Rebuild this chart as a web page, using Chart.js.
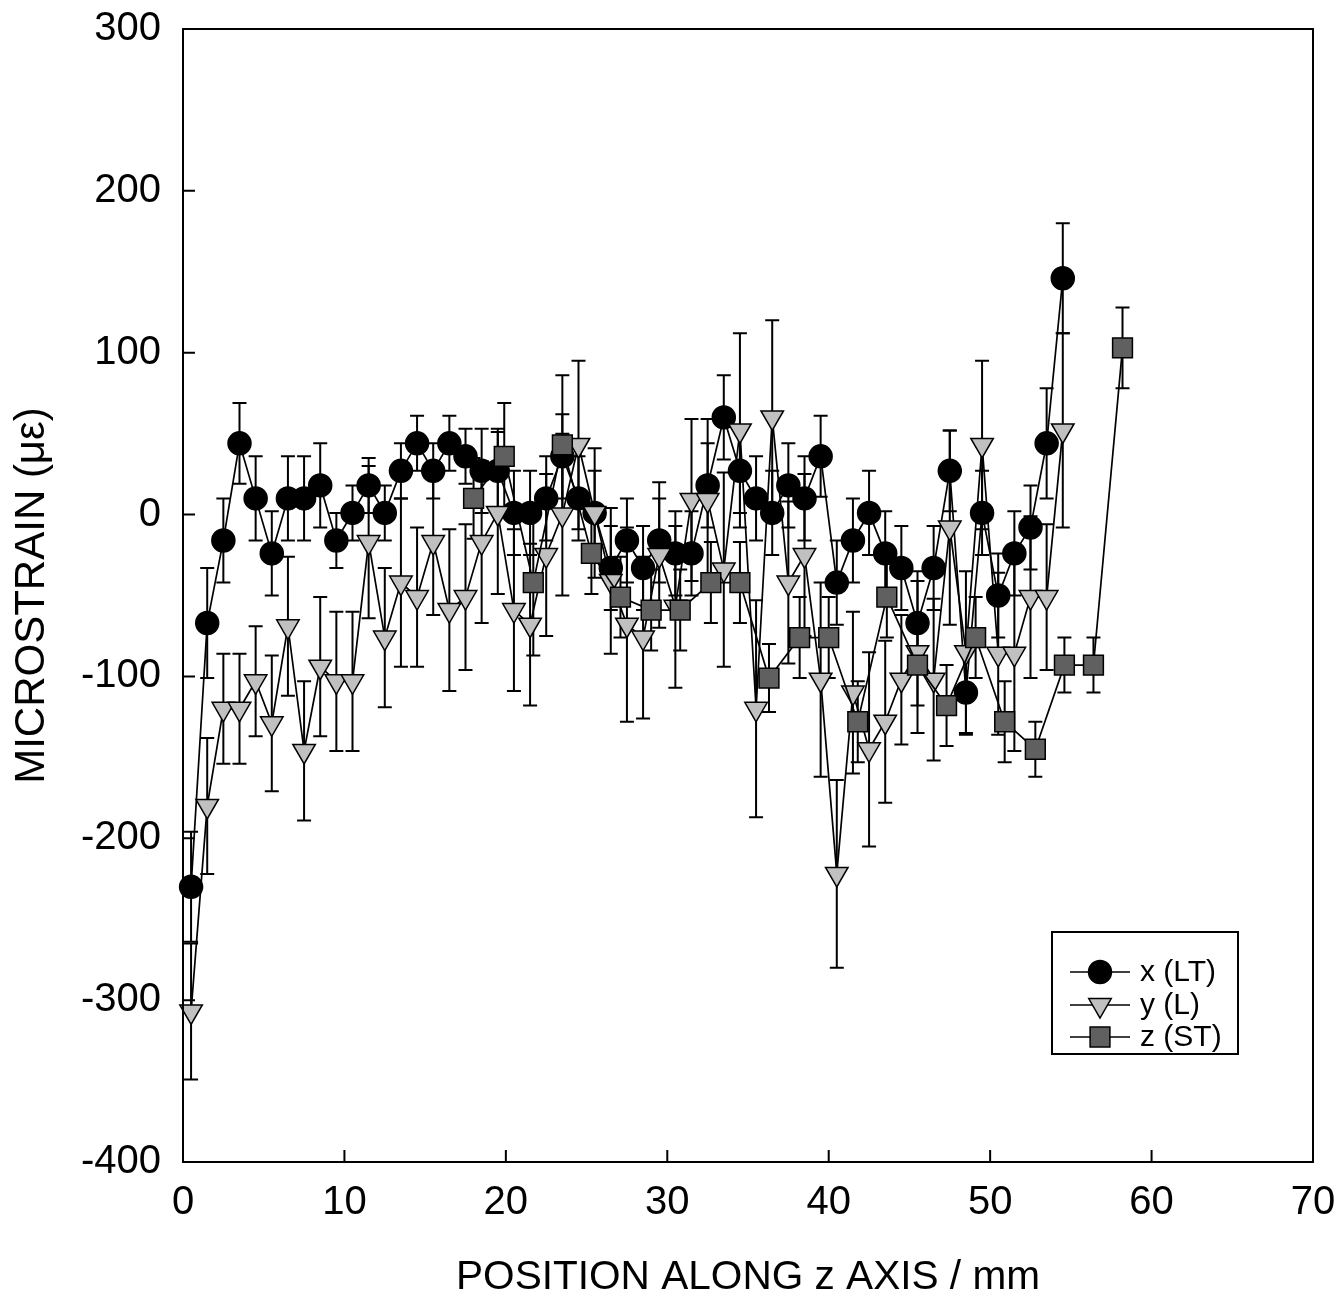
<!DOCTYPE html>
<html>
<head>
<meta charset="utf-8">
<script src="https://cdn.jsdelivr.net/npm/chart.js@4.4.0/dist/chart.umd.min.js"></script>
<style>
  html, body { margin: 0; padding: 0; background: #fff; }
  #wrap { width: 1342px; height: 1299px; }
</style>
</head>
<body>
<div id="wrap"><canvas id="myChart" width="1342" height="1299"></canvas></div>
<script>
// positions (mm) of x and y strain readings
const posXY = [0.5, 1.5, 2.5, 3.5, 4.5, 5.5, 6.5, 7.5, 8.5, 9.5, 10.5, 11.5, 12.5, 13.5, 14.5, 15.5, 16.5, 17.5, 18.5, 19.5,
  20.5, 21.5, 22.5, 23.5, 24.5, 25.5, 26.5, 27.5, 28.5, 29.5, 30.5, 31.5, 32.5, 33.5, 34.5, 35.5, 36.5, 37.5, 38.5, 39.5,
  40.5, 41.5, 42.5, 43.5, 44.5, 45.5, 46.5, 47.5, 48.5, 49.5, 50.5, 51.5, 52.5, 53.5, 54.5];

// x (LT)
const strainX = [-230, -67, -16, 44, 10, -24, 10, 10, 18, -16, 1, 18, 1, 27, 44, 27, 44, 36, 27, 27,
  1, 1, 10, 36, 10, 1, -33, -16, -33, -16, -24, -24, 18, 60, 27, 10, 1, 18, 10, 36,
  -42, -16, 1, -24, -33, -67, -33, 27, -110, 1, -50, -24, -8, 44, 146];
const errX = [34, 34, 26, 25, 26, 26, 26, 26, 26, 17, 17, 17, 17, 17, 17, 17, 17, 17, 26, 26,
  26, 26, 26, 26, 26, 26, 26, 26, 26, 26, 26, 26, 26, 26, 26, 26, 26, 26, 26, 25,
  26, 26, 26, 26, 26, 26, 26, 25, 26, 26, 26, 26, 26, 34, 34];

// y (L)
const strainY = [-307, -180, -120, -120, -103, -129, -69, -146, -94, -103, -103, -17, -76, -42, -51, -17, -59, -51, -17, 1,
  -59, -68, -25, 0, 43, 1, -41, -68, -76, -25, -57, 9, 9, -34, 52, -120, 60, -42, -25, -102,
  -222, -110, -145, -128, -102, -85, -102, -8, -85, 43, -86, -86, -51, -51, 52];
const errY = [42, 42, 34, 34, 34, 42, 43, 43, 43, 43, 43, 47, 43, 52, 43, 45, 50, 45, 50, 50,
  50, 50, 50, 50, 52, 40, 45, 60, 50, 45, 50, 50, 50, 60, 60, 67, 60, 50, 50, 60,
  58, 50, 60, 50, 40, 50, 50, 60, 50, 52, 50, 60, 50, 45, 60];

// z (ST) - measured on its own grid
const posZ = [18.0, 19.9, 21.7, 23.5, 25.3, 27.1, 29.0, 30.8, 32.7, 34.5, 36.3, 38.2, 40.0, 41.8, 43.6, 45.5,
  47.3, 49.1, 50.9, 52.8, 54.6, 56.4, 58.2];
const strainZ = [10, 36, -42, 43, -24, -51, -59, -59, -42, -42, -101, -76, -76, -128, -51, -93,
  -118, -76, -128, -145, -93, -93, 103];
const errZ = [25, 33, 45, 43, 25, 25, 25, 25, 25, 25, 21, 25, 25, 25, 25, 25,
  25, 25, 25, 17, 17, 17, 25];

const xTicks = [0, 10, 20, 30, 40, 50, 60, 70];
const yTicks = [-400, -300, -200, -100, 0, 100, 200, 300];

const FONT = "'Liberation Sans', Arial, sans-serif";

function pairs(xs, ys) {
    let out = [];
    for (let i = 0; i < xs.length; i++) {
        out.push({ x: xs[i], y: ys[i] });
    }
    return out;
}

const errors = [errX, errY, errZ];

const series = [
    { label: 'x (LT)', data: pairs(posXY, strainX), style: 'circle', radius: 11.5, rot: 0, fill: '#000000', order: 3 },
    { label: 'y (L)', data: pairs(posXY, strainY), style: 'triangle', radius: 13, rot: 180, fill: '#c0c0c0', order: 2 },
    { label: 'z (ST)', data: pairs(posZ, strainZ), style: 'rect', radius: 14, rot: 0, fill: '#606060', order: 1 }
];

// error bars under the markers
const errorBars = {
    id: 'errorBars',
    beforeDatasetsDraw(chart) {
        const ctx = chart.ctx;
        const yScale = chart.scales.y;
        ctx.save();
        ctx.strokeStyle = '#000';
        ctx.lineWidth = 2;
        chart.data.datasets.forEach((ds, i) => {
            const meta = chart.getDatasetMeta(i);
            const err = errors[i];
            meta.data.forEach((pt, j) => {
                const v = ds.data[j].y;
                const top = yScale.getPixelForValue(v + err[j]);
                const bot = yScale.getPixelForValue(v - err[j]);
                ctx.beginPath();
                ctx.moveTo(pt.x, top); ctx.lineTo(pt.x, bot);
                ctx.moveTo(pt.x - 7, top); ctx.lineTo(pt.x + 7, top);
                ctx.moveTo(pt.x - 7, bot); ctx.lineTo(pt.x + 7, bot);
                ctx.stroke();
            });
        });
        ctx.restore();
    }
};

// frame, inward ticks and the boxed legend
const frame = {
    id: 'frame',
    afterDraw(chart) {
        const ctx = chart.ctx;
        const a = chart.chartArea;
        const xs = chart.scales.x, ys = chart.scales.y;
        ctx.save();
        ctx.strokeStyle = '#000';
        ctx.lineWidth = 2;
        ctx.strokeRect(a.left, a.top, a.right - a.left, a.bottom - a.top);
        ctx.beginPath();
        xTicks.forEach(t => {
            const px = xs.getPixelForValue(t);
            ctx.moveTo(px, a.bottom); ctx.lineTo(px, a.bottom - 12);
        });
        yTicks.forEach(t => {
            const py = ys.getPixelForValue(t);
            ctx.moveTo(a.left, py); ctx.lineTo(a.left + 12, py);
        });
        ctx.stroke();

        // legend box
        const bx = 1052, by = 932, bw = 186, bh = 122;
        ctx.strokeRect(bx, by, bw, bh);
        const rows = [972, 1005, 1037];
        series.forEach((s, i) => {
            const y = rows[i];
            ctx.lineWidth = 1.5;
            ctx.strokeStyle = '#000';
            ctx.beginPath();
            ctx.moveTo(1070, y); ctx.lineTo(1130, y);
            ctx.stroke();
            ctx.fillStyle = s.fill;
            Chart.helpers.drawPoint(ctx, { pointStyle: s.style, radius: s.radius, rotation: s.rot, borderWidth: 1.5 }, 1100, y);
            ctx.fillStyle = '#000';
            ctx.font = '30px ' + FONT;
            ctx.textBaseline = 'middle';
            ctx.textAlign = 'left';
            ctx.fillText(s.label, 1140, y + 1);
        });
        ctx.restore();
    }
};

const ctx = document.getElementById('myChart').getContext('2d');

const myChart = new Chart(ctx, {
    type: 'scatter',
    data: {
        datasets: series.map(s => ({
            label: s.label,
            data: s.data,
            showLine: true,
            tension: 0,
            borderColor: '#000',
            borderWidth: 1.7,
            pointStyle: s.style,
            pointRadius: s.radius,
            pointHoverRadius: s.radius,
            pointRotation: s.rot,
            pointBackgroundColor: s.fill,
            pointBorderColor: '#000',
            pointBorderWidth: 1.5,
            order: s.order,
            clip: false
        }))
    },
    options: {
        responsive: false,
        animation: false,
        events: [],
        layout: { padding: { top: 29, right: 29, left: 0, bottom: 0 } },
        plugins: {
            legend: { display: false },
            tooltip: { enabled: false }
        },
        scales: {
            x: {
                type: 'linear',
                min: 0,
                max: 70,
                afterFit: (scale) => { scale.height = 137; scale.paddingLeft = 0; scale.paddingRight = 0; },
                afterBuildTicks: (scale) => { scale.ticks = xTicks.map(v => ({ value: v })); },
                grid: { display: false, drawTicks: false },
                border: { display: false },
                ticks: { color: '#000', padding: 17, maxRotation: 0, font: { family: FONT, size: 40 } },
                title: {
                    display: true,
                    text: 'POSITION ALONG z AXIS / mm',
                    color: '#000',
                    font: { family: FONT, size: 40.6, lineHeight: 1.0 },
                    padding: { top: 0, bottom: 1 }
                }
            },
            y: {
                type: 'linear',
                min: -400,
                max: 300,
                afterFit: (scale) => { scale.width = 183; scale.paddingTop = 0; scale.paddingBottom = 0; },
                afterBuildTicks: (scale) => { scale.ticks = yTicks.map(v => ({ value: v })); },
                grid: { display: false, drawTicks: false },
                border: { display: false },
                ticks: { color: '#000', padding: 22, font: { family: FONT, size: 40 } },
                title: {
                    display: true,
                    text: 'MICROSTRAIN (με)',
                    color: '#000',
                    font: { family: FONT, size: 42, lineHeight: 1.0 },
                    padding: { top: 11, bottom: 0 }
                }
            }
        }
    },
    plugins: [errorBars, frame]
});
</script>
</body>
</html>
